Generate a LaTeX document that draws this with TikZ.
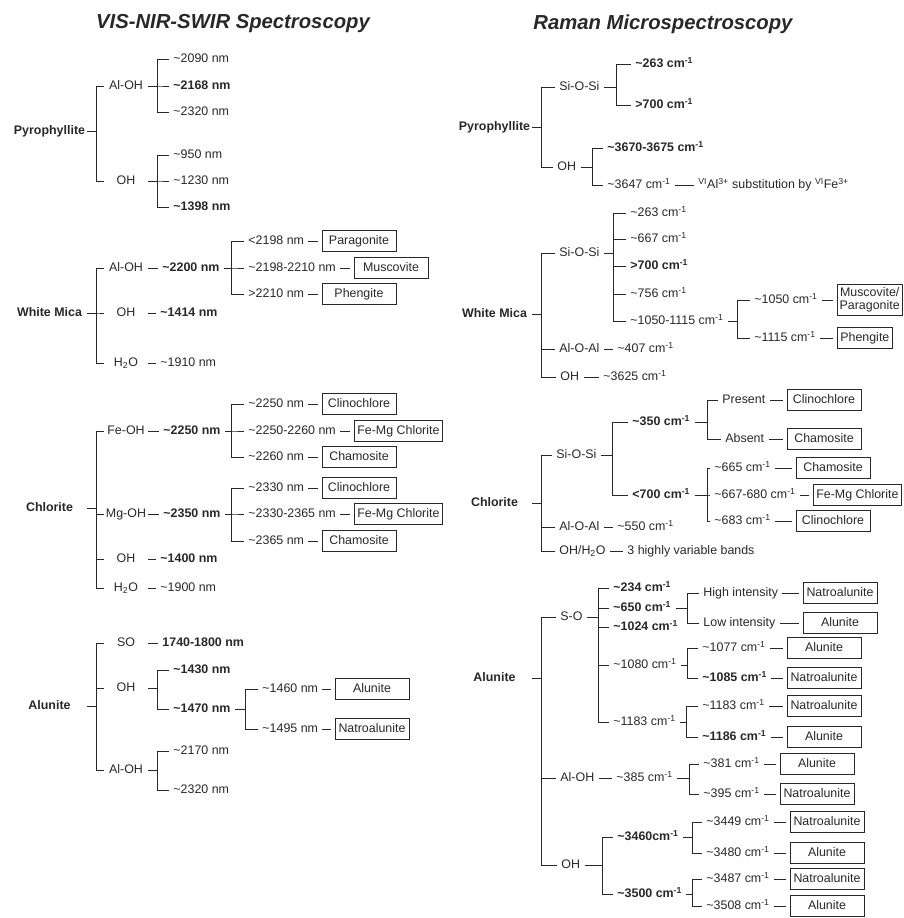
\documentclass[tikz,border=0pt]{standalone}
\usepackage{fontspec}
\setmainfont{Liberation Sans}
\definecolor{ink}{RGB}{40,40,40}
\newcommand{\apx}{\textasciitilde}
\newcommand{\wcm}{cm\textsuperscript{-1}}

\begin{document}
\fontsize{10.6}{12.5}\selectfont
\begin{tikzpicture}[x=0.03cm,y=-0.03cm,color=ink,line width=0.75pt,
  br/.style={to path={(\tikztostart) -- ++(#1,0) |- (\tikztotarget)}},br/.default=9,
  title/.style={font=\fontsize{17.3}{20}\selectfont\bfseries\itshape},
  tx/.style={text height=7.6pt,text depth=1pt},
  mineral/.style={tx,font=\bfseries,minimum width=2.25cm,inner sep=0pt},
  grp/.style={tx,minimum width=1.32cm,inner sep=0pt},
  lab/.style={tx,anchor=west,inner xsep=0.12cm,inner ysep=0.05cm},
  val/.style={lab,font=\bfseries},
  box/.style={tx,draw,anchor=west,minimum width=2.22cm,minimum height=0.62cm,inner xsep=0.1cm,inner ysep=0.05cm,outer sep=0.12cm},
  nbox/.style={box,minimum width=0pt},
  mbox/.style={draw,anchor=west,align=center,font=\fontsize{10.6}{11.5}\selectfont,inner xsep=0.08cm,inner ysep=0.1cm,outer sep=0.12cm}]
\useasboundingbox (0,0) rectangle (904,918);

\node[title](tvis) at (233,24){VIS-NIR-SWIR Spectroscopy};
\node[title](tram) at (663,24){Raman Microspectroscopy};

\node[mineral](lpy) at (49.5,131){Pyrophyllite};
\node[grp](lpyA) at (126,86){Al-OH};
\node[lab](lpyA1) at (169,59){\apx2090 nm};
\node[val](lpyA2) at (169,86){\apx2168 nm};
\node[lab](lpyA3) at (169,112){\apx2320 nm};
\node[grp](lpyB) at (126,181){OH};
\node[lab](lpyB1) at (169,155){\apx950 nm};
\node[lab](lpyB2) at (169,181){\apx1230 nm};
\node[val](lpyB3) at (169,207){\apx1398 nm};

\path(lpy.east) edge[br](lpyA.west) edge[br](lpyB.west)
  (lpyA.east) edge[br](lpyA1.west) edge[br](lpyA2.west) edge[br](lpyA3.west)
  (lpyB.east) edge[br](lpyB1.west) edge[br](lpyB2.west) edge[br](lpyB3.west);

\node[mineral](lwm) at (49.5,313){White Mica};
\node[grp](lwmA) at (126,268){Al-OH};
\node[val](lwmAv) at (158,268){\apx2200 nm};
\node[lab](lwmA1) at (244,241){<2198 nm};
\node[lab](lwmA2) at (244,268){\apx2198-2210 nm};
\node[lab](lwmA3) at (244,294){>2210 nm};
\node[box](lwmA1b) at (318,241){Paragonite};
\node[box](lwmA2b) at (350,268){Muscovite};
\node[box](lwmA3b) at (318,294){Phengite};
\node[grp](lwmB) at (126,313){OH};
\node[val](lwmBv) at (156,313){\apx1414 nm};
\node[grp](lwmC) at (126,363){H\textsubscript{2}O};
\node[lab](lwmCv) at (156,363){\apx1910 nm};

\path(lwm.east) edge[br](lwmA.west) edge[br](lwmB.west) edge[br](lwmC.west)
  (lwmA.east) edge(lwmAv.west) (lwmB.east) edge(lwmBv.west) (lwmC.east) edge(lwmCv.west)
  (lwmAv.east) edge[br=8](lwmA1.west) edge[br=8](lwmA2.west) edge[br=8](lwmA3.west)
  (lwmA1.east) edge(lwmA1b.west) (lwmA2.east) edge(lwmA2b.west) (lwmA3.east) edge(lwmA3b.west);

\node[mineral](lch) at (49.5,508){Chlorite};
\node[grp](lchA) at (126,431){Fe-OH};
\node[val](lchAv) at (159,431){\apx2250 nm};
\node[lab](lchA1) at (244,404){\apx2250 nm};
\node[lab](lchA2) at (244,431){\apx2250-2260 nm};
\node[lab](lchA3) at (244,457){\apx2260 nm};
\node[box](lchA1b) at (318,404){Clinochlore};
\node[box](lchA2b) at (350,431){Fe-Mg Chlorite};
\node[box](lchA3b) at (318,457){Chamosite};
\node[grp](lchB) at (126,514){Mg-OH};
\node[val](lchBv) at (159,514){\apx2350 nm};
\node[lab](lchB1) at (244,488){\apx2330 nm};
\node[lab](lchB2) at (244,514){\apx2330-2365 nm};
\node[lab](lchB3) at (244,541){\apx2365 nm};
\node[box](lchB1b) at (318,488){Clinochlore};
\node[box](lchB2b) at (350,514){Fe-Mg Chlorite};
\node[box](lchB3b) at (318,541){Chamosite};
\node[grp](lchC) at (126,559){OH};
\node[val](lchCv) at (156,559){\apx1400 nm};
\node[grp](lchD) at (126,588){H\textsubscript{2}O};
\node[lab](lchDv) at (156,588){\apx1900 nm};

\path(lch.east) edge[br](lchA.west) edge[br](lchB.west) edge[br](lchC.west) edge[br](lchD.west)
  (lchA.east) edge(lchAv.west) (lchB.east) edge(lchBv.west)
  (lchC.east) edge(lchCv.west) (lchD.east) edge(lchDv.west)
  (lchAv.east) edge[br=7](lchA1.west) edge[br=7](lchA2.west) edge[br=7](lchA3.west)
  (lchBv.east) edge[br=7](lchB1.west) edge[br=7](lchB2.west) edge[br=7](lchB3.west)
  (lchA1.east) edge(lchA1b.west) (lchA2.east) edge(lchA2b.west) (lchA3.east) edge(lchA3b.west)
  (lchB1.east) edge(lchB1b.west) (lchB2.east) edge(lchB2b.west) (lchB3.east) edge(lchB3b.west);

\node[mineral](lal) at (49.5,706){Alunite};
\node[grp](lalA) at (126,643){SO};
\node[val](lalAv) at (158,643){1740-1800 nm};
\node[grp](lalB) at (126,688){OH};
\node[val](lalB1) at (169,670){\apx1430 nm};
\node[val](lalB2) at (169,709){\apx1470 nm};
\node[lab](lalB21) at (258,689){\apx1460 nm};
\node[lab](lalB22) at (258,729){\apx1495 nm};
\node[box](lalB21b) at (331,689){Alunite};
\node[box](lalB22b) at (331,729){Natroalunite};
\node[grp](lalC) at (126,770){Al-OH};
\node[lab](lalC1) at (169,751){\apx2170 nm};
\node[lab](lalC2) at (169,790){\apx2320 nm};

\path(lal.east) edge[br](lalA.west) edge[br](lalB.west) edge[br](lalC.west)
  (lalA.east) edge(lalAv.west)
  (lalB.east) edge[br](lalB1.west) edge[br](lalB2.west)
  (lalB2.east) edge[br=11](lalB21.west) edge[br=11](lalB22.west)
  (lalB21.east) edge(lalB21b.west) (lalB22.east) edge(lalB22b.west)
  (lalC.east) edge[br](lalC1.west) edge[br](lalC2.west);

\node[mineral](rpy) at (494.5,127){Pyrophyllite};
\node[lab](rpyA) at (555,87){Si-O-Si};
\node[val](rpyA1) at (631,64){\apx263 \wcm};
\node[val](rpyA2) at (631,105){>700 \wcm};
\node[lab](rpyB) at (553,167){OH};
\node[val](rpyB1) at (603,148){\apx3670-3675 \wcm};
\node[lab](rpyB2) at (603,185){\apx3647 \wcm};
\node[lab](rpyB2n) at (694,185){\textsuperscript{VI}Al\textsuperscript{3+} substitution by \textsuperscript{VI}Fe\textsuperscript{3+}};

\path(rpy.east) edge[br](rpyA.west) edge[br](rpyB.west)
  (rpyA.east) edge[br=13](rpyA1.west) edge[br=13](rpyA2.west)
  (rpyB.east) edge[br=12](rpyB1.west) edge[br=12](rpyB2.west)
  (rpyB2.east) edge(rpyB2n.west);

\node[mineral](rwm) at (494.5,314){White Mica};
\node[lab](rwmA) at (555,253){Si-O-Si};
\node[lab](rwmA1) at (626,213){\apx263 \wcm};
\node[lab](rwmA2) at (626,239){\apx667 \wcm};
\node[val](rwmA3) at (626,266){>700 \wcm};
\node[lab](rwmA4) at (626,294){\apx756 \wcm};
\node[lab](rwmA5) at (626,321){\apx1050-1115 \wcm};
\node[lab](rwmA51) at (750,300){\apx1050 \wcm};
\node[lab](rwmA52) at (750,338){\apx1115 \wcm};
\node[mbox](rwmA51b) at (833,300){Muscovite/\\Paragonite};
\node[nbox](rwmA52b) at (833,338){Phengite};
\node[lab](rwmB) at (555,349){Al-O-Al};
\node[lab](rwmBv) at (613,349){\apx407 \wcm};
\node[lab](rwmC) at (556,377){OH};
\node[lab](rwmCv) at (599,377){\apx3625 \wcm};

\path(rwm.east) edge[br](rwmA.west) edge[br](rwmB.west) edge[br](rwmC.west)
  (rwmA.east) edge[br=10](rwmA1.west) edge[br=10](rwmA2.west) edge[br=10](rwmA3.west)
    edge[br=10](rwmA4.west) edge[br=10](rwmA5.west)
  (rwmA5.east) edge[br](rwmA51.west) edge[br](rwmA52.west)
  (rwmA51.east) edge(rwmA51b.west) (rwmA52.east) edge(rwmA52b.west)
  (rwmB.east) edge(rwmBv.west) (rwmC.east) edge(rwmCv.west);

\node[mineral](rch) at (494.5,503){Chlorite};
\node[lab](rchA) at (552,455){Si-O-Si};
\node[val](rchA1) at (628,422){\apx350 \wcm};
\node[lab](rchA11) at (718,400){Present};
\node[lab](rchA12) at (721,439){Absent};
\node[box](rchA11b) at (783,400){Clinochlore};
\node[box](rchA12b) at (783,439){Chamosite};
\node[val](rchA2) at (628,495){<700 \wcm};
\node[lab](rchA21) at (710,468){\apx665 \wcm};
\node[lab](rchA22) at (710,495){\apx667-680 \wcm};
\node[lab](rchA23) at (710,521){\apx683 \wcm};
\node[box](rchA21b) at (792,468){Chamosite};
\node[box](rchA22b) at (809,495){Fe-Mg Chlorite};
\node[box](rchA23b) at (792,521){Clinochlore};
\node[lab](rchB) at (555,527){Al-O-Al};
\node[lab](rchBv) at (613,527){\apx550 \wcm};
\node[lab](rchC) at (555,551){OH/H\textsubscript{2}O};
\node[lab](rchCv) at (623,551){3 highly variable bands};

\path(rch.east) edge[br](rchA.west) edge[br](rchB.west) edge[br](rchC.west)
  (rchA.east) edge[br=12](rchA1.west) edge[br=12](rchA2.west)
  (rchA1.east) edge[br=13](rchA11.west) edge[br=13](rchA12.west)
  (rchA11.east) edge(rchA11b.west) (rchA12.east) edge(rchA12b.west)
  (rchA2.east) edge[br=13](rchA21.west) edge[br=13](rchA22.west) edge[br=13](rchA23.west)
  (rchA21.east) edge(rchA21b.west) (rchA22.east) edge(rchA22b.west) (rchA23.east) edge(rchA23b.west)
  (rchB.east) edge(rchBv.west) (rchC.east) edge(rchCv.west);

\node[mineral](ral) at (494.5,678){Alunite};
\node[lab](ralA) at (556,617){S-O};
\node[val](ralA1) at (609,588){\apx234 \wcm};
\node[val](ralA2) at (609,608){\apx650 \wcm};
\node[val](ralA3) at (609,627){\apx1024 \wcm};
\node[lab](ralA21) at (699,593){High intensity};
\node[lab](ralA22) at (699,623){Low intensity};
\node[box](ralA21b) at (799,593){Natroalunite};
\node[box](ralA22b) at (799,623){Alunite};
\node[lab](ralA4) at (609,665){\apx1080 \wcm};
\node[lab](ralA41) at (698,648){\apx1077 \wcm};
\node[val](ralA42) at (698,678){\apx1085 \wcm};
\node[box](ralA41b) at (783,648){Alunite};
\node[box](ralA42b) at (783,678){Natroalunite};
\node[lab](ralA5) at (609,722){\apx1183 \wcm};
\node[lab](ralA51) at (698,706){\apx1183 \wcm};
\node[val](ralA52) at (698,737){\apx1186 \wcm};
\node[box](ralA51b) at (783,706){Natroalunite};
\node[box](ralA52b) at (783,737){Alunite};
\node[lab](ralB) at (556,778){Al-OH};
\node[lab](ralBv) at (612,778){\apx385 \wcm};
\node[lab](ralB1) at (699,764){\apx381 \wcm};
\node[lab](ralB2) at (699,794){\apx395 \wcm};
\node[box](ralB1b) at (776,764){Alunite};
\node[box](ralB2b) at (776,794){Natroalunite};
\node[lab](ralC) at (557,865){OH};
\node[val](ralC1) at (613,837){\apx3460cm\textsuperscript{-1}};
\node[val](ralC2) at (613,894){\apx3500 \wcm};
\node[lab](ralC11) at (702,822){\apx3449 \wcm};
\node[lab](ralC12) at (702,853){\apx3480 \wcm};
\node[lab](ralC21) at (702,879){\apx3487 \wcm};
\node[lab](ralC22) at (702,906){\apx3508 \wcm};
\node[box](ralC11b) at (786,822){Natroalunite};
\node[box](ralC12b) at (786,853){Alunite};
\node[box](ralC21b) at (786,879){Natroalunite};
\node[box](ralC22b) at (786,906){Alunite};

\path(ral.east) edge[br](ralA.west) edge[br](ralB.west) edge[br](ralC.west)
  (ralA.east) edge[br=11](ralA1.west) edge[br=11](ralA2.west) edge[br=11](ralA3.west)
    edge[br=11](ralA4.west) edge[br=11](ralA5.west)
  (ralA2.east) edge[br=12](ralA21.west) edge[br=12](ralA22.west)
  (ralA21.east) edge(ralA21b.west) (ralA22.east) edge(ralA22b.west)
  (ralA4.east) edge[br=6](ralA41.west) edge[br=6](ralA42.west)
  (ralA41.east) edge(ralA41b.west) (ralA42.east) edge(ralA42b.west)
  (ralA5.east) edge[br=6](ralA51.west) edge[br=6](ralA52.west)
  (ralA51.east) edge(ralA51b.west) (ralA52.east) edge(ralA52b.west)
  (ralB.east) edge(ralBv.west)
  (ralBv.east) edge[br=12](ralB1.west) edge[br=12](ralB2.west)
  (ralB1.east) edge(ralB1b.west) (ralB2.east) edge(ralB2b.west)
  (ralC.east) edge[br=18](ralC1.west) edge[br=18](ralC2.west)
  (ralC1.east) edge[br=9](ralC11.west) edge[br=9](ralC12.west)
  (ralC2.east) edge[br=6](ralC21.west) edge[br=6](ralC22.west)
  (ralC11.east) edge(ralC11b.west) (ralC12.east) edge(ralC12b.west)
  (ralC21.east) edge(ralC21b.west) (ralC22.east) edge(ralC22b.west);

\end{tikzpicture}
\end{document}
